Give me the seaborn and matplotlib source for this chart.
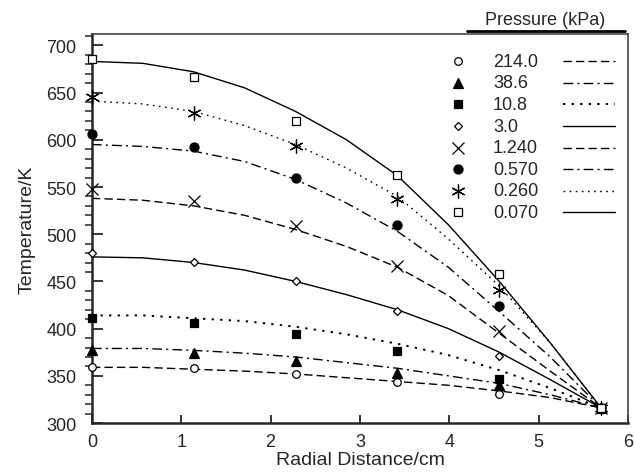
import numpy as np
import pandas as pd
import matplotlib
matplotlib.use("Agg")
import matplotlib.pyplot as plt
import seaborn as sns

# pressure series (kPa), legend order
pressures = ["214.0", "38.6", "10.8", "3.0", "1.240", "0.570", "0.260", "0.070"]

# measured points
marker_x = [0.0, 1.14, 2.28, 3.42, 4.56, 5.7]
meas_214 = [359, 358, 352, 344, 331, 316]
meas_38 = [377, 374, 366, 353, 340, 316]
meas_10 = [411, 406, 394, 376, 347, 316]
meas_3 = [480, 471, 450, 419, 371, 316]
meas_124 = [548, 535, 509, 466, 397, 316]
meas_057 = [606, 592, 560, 510, 424, 316]
meas_026 = [645, 628, 593, 537, 441, 316]
meas_007 = [686, 667, 620, 563, 458, 316]

# model curves
line_x = [0.0, 0.57, 1.14, 1.71, 2.28, 2.85, 3.42, 3.99, 4.56, 5.13, 5.7]
model_214 = [359, 359, 357, 355, 352, 348, 344, 340, 334, 327, 316]
model_38 = [379, 379, 377, 374, 370, 364, 358, 350, 342, 330, 316]
model_10 = [414, 414, 411, 408, 402, 394, 384, 372, 356, 337, 316]
model_3 = [476, 475, 470, 462, 450, 436, 420, 400, 375, 346, 316]
model_124 = [538, 536, 530, 520, 505, 487, 465, 435, 395, 355, 316]
model_057 = [595, 593, 588, 577, 558, 533, 503, 465, 418, 370, 316]
model_026 = [641, 638, 630, 615, 595, 570, 540, 495, 445, 385, 316]
model_007 = [683, 681, 672, 655, 630, 600, 562, 510, 450, 385, 316]

meas = [meas_214, meas_38, meas_10, meas_3, meas_124, meas_057, meas_026, meas_007]
model = [model_214, model_38, model_10, model_3, model_124, model_057, model_026, model_007]

# style per series: marker, size, face, dash pattern, line width
styles = [
    ("o", 5.5, "white", (0, (6, 3)), 1.0),
    ("^", 7, "black", (0, (7, 3, 1.5, 3)), 1.0),
    ("s", 6, "black", (0, (1.2, 3.2)), 1.4),
    ("D", 4.5, "white", "-", 1.0),
    ("x", 9, "black", (0, (6, 3)), 1.0),
    ("o", 6.5, "black", (0, (7, 3, 1.5, 3)), 1.0),
    ((6, 2, 0), 10, "black", (0, (1.2, 3.2)), 1.0),
    ("s", 5.5, "white", "-", 1.0),
]

sns.set_style("ticks")
plt.rcParams["font.family"] = ["Liberation Sans", "DejaVu Sans"]

fig = plt.figure(figsize=(6.34, 4.77), dpi=100)
ax = fig.add_axes([0.145, 0.111, 0.8455, 0.8155])

rows = []
for p, ys in zip(pressures, model):
    for xv, yv in zip(line_x, ys):
        rows.append({"r": xv, "T": yv, "p": p})
df = pd.DataFrame(rows)

for p, ys, (mk, ms, fc, ls, lw) in zip(pressures, meas, styles):
    sub = df[df["p"] == p]
    sns.lineplot(data=sub, x="r", y="T", ax=ax, color="black", lw=lw,
                 linestyle=ls, legend=False)
    ax.plot(marker_x, ys, linestyle="none", marker=mk, ms=ms, mfc=fc,
            mec="black", mew=0.9, color="black", clip_on=False, zorder=3)

ax.set_xlim(0, 6)
ax.set_ylim(300, 712)
ax.set_xticks(range(0, 7))
ax.set_yticks(range(300, 701, 50))
ax.set_yticks(range(300, 711, 10), minor=True)
ax.tick_params(axis="both", direction="in", labelsize=13, width=1.3)
ax.tick_params(axis="y", which="major", length=8, pad=11)
ax.tick_params(axis="y", which="minor", length=5, width=1.1)
ax.tick_params(axis="x", which="major", length=6, pad=7)
ax.set_xlabel("Radial Distance/cm", fontsize=14, labelpad=1)
ax.set_ylabel("Temperature/K", fontsize=14, labelpad=8)
for s in ["left", "bottom"]:
    ax.spines[s].set_linewidth(1.8)
for s in ["top", "right"]:
    ax.spines[s].set_linewidth(1.2)
    ax.spines[s].set_color("#444444")

# hand-built legend (marker | value | line sample)
tr = ax.transAxes
y0, dy = 0.93, 0.0555
for i, (p, (mk, ms, fc, ls, lw)) in enumerate(zip(pressures, styles)):
    yy = y0 - i * dy
    ax.plot([0.6835], [yy], transform=tr, linestyle="none", marker=mk,
            ms=ms, mfc=fc, mec="black", mew=0.9, color="black", clip_on=False)
    ax.text(0.748, yy, p, transform=tr, fontsize=13, va="center", ha="left")
    ax.plot([0.878, 0.975], [yy, yy], transform=tr, color="black", lw=lw,
            linestyle=ls, clip_on=False)
ax.text(0.845, 1.016, "Pressure (kPa)", transform=tr, fontsize=13,
        ha="center", va="bottom")
ax.plot([0.70, 0.995], [1.008, 1.008], transform=tr, color="black", lw=2,
        clip_on=False)

fig.savefig("out.png", dpi=100)
